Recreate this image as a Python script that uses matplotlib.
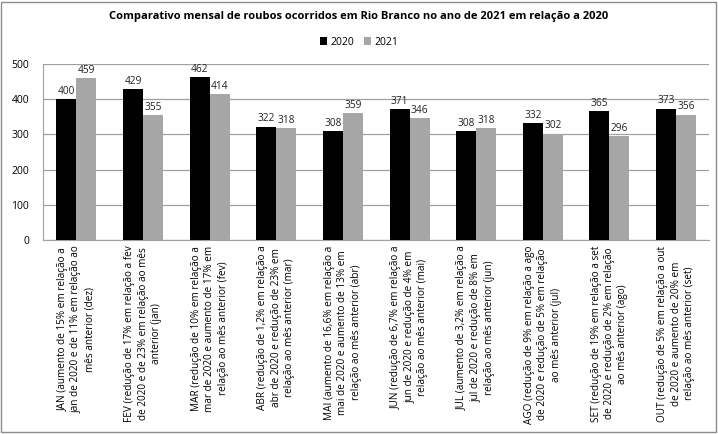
import numpy as np
import matplotlib.pyplot as plt
from matplotlib.patches import Rectangle

plt.rcParams['font.family'] = ['Open Sans', 'DejaVu Sans']

months = ['JAN', 'FEV', 'MAR', 'ABR', 'MAI', 'JUN', 'JUL', 'AGO', 'SET', 'OUT']
labels = [
    "JAN (aumento de 15% em relação a\njan de 2020 e de 11% em relação ao\nmês anterior (dez)",
    "FEV (redução de 17% em relação a fev\nde 2020 e de 23% em relação ao mês\nanterior (jan)",
    "MAR (redução de 10% em relação a\nmar de 2020 e aumento de 17% em\nrelação ao mês anterior (fev)",
    "ABR (redução de 1,2% em relação a\nabr de 2020 e redução de 23% em\nrelação ao mês anterior (mar)",
    "MAI (aumento de 16,6% em relação a\nmai de 2020 e aumento de 13% em\nrelação ao mês anterior (abr)",
    "JUN (redução de 6,7% em relação a\njun de 2020 e redução de 4% em\nrelação ao mês anterior (mai)",
    "JUL (aumento de 3,2% em relação a\njul de 2020 e redução de 8% em\nrelação ao mês anterior (jun)",
    "AGO (redução de 9% em relação a ago\nde 2020 e redução de 5% em relação\nao mês anterior (jul)",
    "SET (redução de 19% em relação a set\nde 2020 e redução de 2% em relação\nao mês anterior (ago)",
    "OUT (redução de 5% em relação a out\nde 2020 e aumento de 20% em\nrelação ao mês anterior (set)",
]
values_2020 = [400, 429, 462, 322, 308, 371, 308, 332, 365, 373]
values_2021 = [459, 355, 414, 318, 359, 346, 318, 302, 296, 356]

fig = plt.figure(figsize=(7.18, 4.34), dpi=100)
ax = fig.add_axes([0.060, 0.447, 0.928, 0.406])

x = np.arange(len(months))
w = 0.3
b1 = ax.bar(x - w/2, values_2020, w, color='black', label='2020', zorder=3)
b2 = ax.bar(x + w/2, values_2021, w, color='#a6a6a6', label='2021', zorder=3)

for bars in (b1, b2):
    for r in bars:
        ax.text(r.get_x() + r.get_width()/2, r.get_height() + 6, str(int(r.get_height())),
                ha='center', va='bottom', fontsize=7.3, color='#222222')

ax.set_xlim(-0.5, len(months) - 0.5)
ax.set_ylim(0, 500)
ax.set_yticks(range(0, 501, 100))
ax.yaxis.grid(True, color='#a0a0a0', linewidth=0.9, zorder=0)
ax.set_xticks(x)
ax.set_xticklabels(labels, rotation=90, fontsize=7.2, multialignment='center', va='top', ha='center',
                   linespacing=1.3)
ax.tick_params(axis='x', length=0, pad=4)
ax.tick_params(axis='y', length=0, labelsize=7.5, pad=10)
for s in ('top', 'right'):
    ax.spines[s].set_visible(False)
for s in ('left', 'bottom'):
    ax.spines[s].set_color('#a0a0a0')

fig.text(0.5, 0.962, 'Comparativo mensal de roubos ocorridos em Rio Branco no ano de 2021 em relação a 2020',
         ha='center', va='center', fontsize=8, fontweight='bold')
fig.legend(loc='center', bbox_to_anchor=(0.5, 0.903), ncol=2, frameon=False, fontsize=7.5,
           handlelength=0.7, handleheight=0.7, handletextpad=0.3, columnspacing=1.0)

fig.patches.append(Rectangle((0.002, 0.004), 0.995, 0.992, transform=fig.transFigure,
                             fill=False, edgecolor='#8c8c8c', linewidth=1))

fig.savefig('out.png', dpi=100)
